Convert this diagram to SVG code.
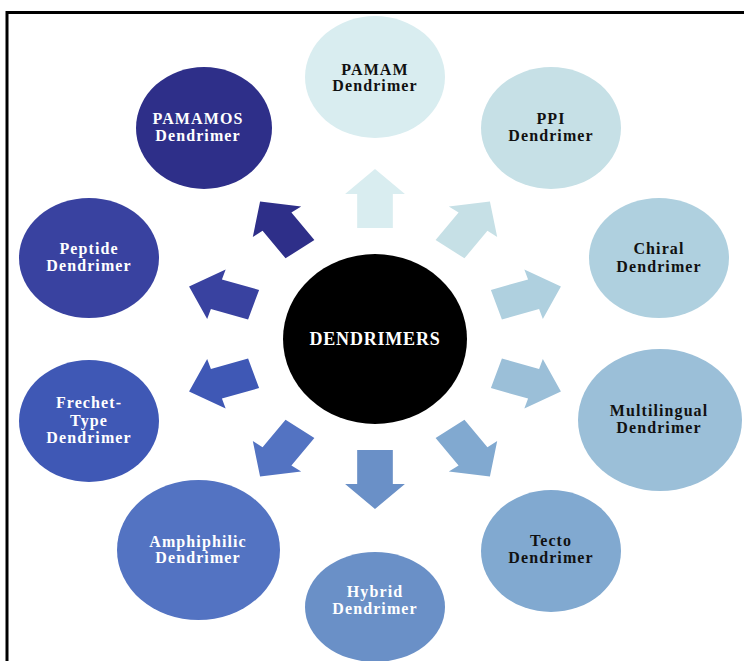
<svg xmlns="http://www.w3.org/2000/svg" width="744" height="661" viewBox="0 0 744 661">
<style>
.lbl{font-family:"Liberation Serif","Times New Roman",serif;font-weight:bold;font-size:16px;letter-spacing:1.1px;text-anchor:middle}
.w{fill:#ffffff}
.k{fill:#111111}
</style>
<defs>
<polygon id="arr" points="111,-15.5 145,-15.5 145,-26 170,0 145,26 145,15.5 111,15.5"/>
</defs>
<rect x="0" y="0" width="744" height="661" fill="#ffffff"/>
<path d="M7,661 V12.5 H744" fill="none" stroke="#000000" stroke-width="3"/>
<g id="connectors">
<use href="#arr" transform="translate(375 339) scale(1.15 1) rotate(-90)" fill="#d9edf0"/>
<use href="#arr" transform="translate(375 339) scale(1.15 1) rotate(-54)" fill="#c6e0e6"/>
<use href="#arr" transform="translate(375 339) scale(1.15 1) rotate(-18)" fill="#afd0df"/>
<use href="#arr" transform="translate(375 339) scale(1.15 1) rotate(18)" fill="#9bbfd8"/>
<use href="#arr" transform="translate(375 339) scale(1.15 1) rotate(54)" fill="#81a9d0"/>
<use href="#arr" transform="translate(375 339) scale(1.15 1) rotate(90)" fill="#6a90c7"/>
<use href="#arr" transform="translate(375 339) scale(1.15 1) rotate(126)" fill="#5373c2"/>
<use href="#arr" transform="translate(375 339) scale(1.15 1) rotate(162)" fill="#3f58b5"/>
<use href="#arr" transform="translate(375 339) scale(1.15 1) rotate(198)" fill="#3942a0"/>
<use href="#arr" transform="translate(375 339) scale(1.15 1) rotate(234)" fill="#2e2f89"/>
</g>
<g id="center">
<ellipse cx="375" cy="339" rx="92" ry="85" fill="#000000"/>
<text x="375" y="345" class="lbl w" style="font-size:18px;letter-spacing:0.8px">DENDRIMERS</text>
</g>
<g id="pamam">
<ellipse cx="375" cy="77" rx="70" ry="61" fill="#d9edf0"/>
<text x="375" y="75" class="lbl k">PAMAM</text>
<text x="375" y="91" class="lbl k">Dendrimer</text>
</g>
<g id="ppi">
<ellipse cx="551" cy="128" rx="70" ry="61" fill="#c6e0e6"/>
<text x="551" y="124" class="lbl k">PPI</text>
<text x="551" y="141" class="lbl k">Dendrimer</text>
</g>
<g id="chiral">
<ellipse cx="659" cy="258" rx="70" ry="60" fill="#afd0df"/>
<text x="659" y="254" class="lbl k">Chiral</text>
<text x="659" y="272" class="lbl k">Dendrimer</text>
</g>
<g id="multilingual">
<ellipse cx="660" cy="420" rx="82" ry="71" fill="#9bbfd8"/>
<text x="659" y="416" class="lbl k">Multilingual</text>
<text x="659" y="433" class="lbl k">Dendrimer</text>
</g>
<g id="tecto">
<ellipse cx="551" cy="551" rx="70" ry="61" fill="#81a9d0"/>
<text x="551" y="546" class="lbl k">Tecto</text>
<text x="551" y="563" class="lbl k">Dendrimer</text>
</g>
<g id="hybrid">
<ellipse cx="375" cy="607" rx="70" ry="55" fill="#6a90c7"/>
<text x="375" y="597" class="lbl w">Hybrid</text>
<text x="375" y="614" class="lbl w">Dendrimer</text>
</g>
<g id="amphiphilic">
<ellipse cx="198.5" cy="550" rx="81.5" ry="70" fill="#5373c2"/>
<text x="198" y="547" class="lbl w">Amphiphilic</text>
<text x="198" y="563" class="lbl w">Dendrimer</text>
</g>
<g id="frechet">
<ellipse cx="89" cy="421" rx="70" ry="61" fill="#3f58b5"/>
<text x="89" y="408" class="lbl w">Frechet-</text>
<text x="89" y="426" class="lbl w">Type</text>
<text x="89" y="443" class="lbl w">Dendrimer</text>
</g>
<g id="peptide">
<ellipse cx="89" cy="258" rx="70" ry="60" fill="#3942a0"/>
<text x="89" y="254" class="lbl w">Peptide</text>
<text x="89" y="271" class="lbl w">Dendrimer</text>
</g>
<g id="pamamos">
<ellipse cx="204" cy="128" rx="68" ry="61" fill="#2e2f89"/>
<text x="198" y="124" class="lbl w">PAMAMOS</text>
<text x="198" y="141" class="lbl w">Dendrimer</text>
</g>
</svg>
